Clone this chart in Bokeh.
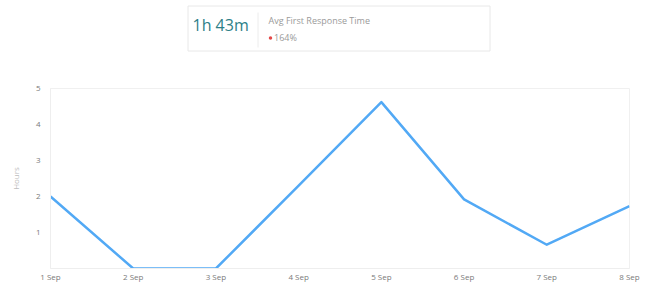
from bokeh.plotting import figure
from bokeh.models import Range1d, FixedTicker
from bokeh.layouts import column
from bokeh.embed import file_html
from bokeh.resources import INLINE
from bokeh.core.properties import value

# ---- data ----
days = ["1 Sep", "2 Sep", "3 Sep", "4 Sep", "5 Sep", "6 Sep", "7 Sep", "8 Sep"]
hours = [2.0, 0.0, 0.0, 2.3, 4.62, 1.92, 0.66, 1.73]
y_ticks = [1, 2, 3, 4, 5]
kpi_value = "1h 43m"
kpi_title = "Avg First Response Time"
kpi_change = "164%"

FONT = "Open Sans"
W = 661

# ---- KPI header (figure coordinates in px, y downward) ----
top = figure(width=W, height=60, output_backend="svg", toolbar_location=None,
             x_range=Range1d(0, W), y_range=Range1d(60, 0),
             min_border=0, outline_line_color=None)
top.frame_align = False
top.axis.visible = False
top.grid.visible = False
top.quad(left=[187.5], right=[489.5], top=[5.5], bottom=[50.5],
         fill_color="white", line_color="#e8e8e8", line_width=1)
top.segment(x0=[257.5], y0=[12], x1=[257.5], y1=[47], line_color="#ececec", line_width=1)
top.text(x=[192], y=[24.5], text=[kpi_value], text_font=value(FONT), text_font_size="16px",
         text_color="#2e7f88", text_baseline="middle", text_align="left")
top.text(x=[268], y=[20], text=[kpi_title], text_font=value(FONT), text_font_size="9px",
         text_color="#9a9a9a", text_baseline="middle", text_align="left")
top.scatter(x=[270], y=[37.5], size=3.5, marker="circle", fill_color="#e34a4a", line_color=None)
top.text(x=[273.5], y=[37], text=[kpi_change], text_font=value(FONT), text_font_size="9px",
         text_color="#9a9a9a", text_baseline="middle", text_align="left")

# ---- line chart ----
xs = list(range(len(days)))
p = figure(width=W, height=224, output_backend="svg", toolbar_location=None,
           x_range=Range1d(0, len(days) - 1), y_range=Range1d(0, 5),
           min_border_left=50, min_border_right=32, min_border_top=28, min_border_bottom=10,
           outline_line_color="#f0f0f0")
p.frame_align = False
p.grid.visible = False
p.line(xs, hours, line_color="#52a9f5", line_width=2.5, line_join="round")

p.xaxis.ticker = FixedTicker(ticks=xs)
p.xaxis.major_label_overrides = {i: d for i, d in enumerate(days)}
p.yaxis.ticker = FixedTicker(ticks=y_ticks)
p.yaxis.axis_label = "Hours"
for ax in (p.xaxis[0], p.yaxis[0]):
    ax.axis_line_color = "#eeeeee"
    ax.major_tick_line_color = None
    ax.minor_tick_line_color = None
    ax.major_tick_in = 0
    ax.major_tick_out = 0
    ax.minor_tick_in = 0
    ax.minor_tick_out = 0
    ax.major_label_text_font = FONT
    ax.major_label_text_font_size = "8px"
    ax.major_label_text_color = "#7a7a7a"
p.xaxis.major_label_standoff = 2
p.yaxis.major_label_standoff = 10
p.yaxis.axis_label_text_font = FONT
p.yaxis.axis_label_text_font_size = "8px"
p.yaxis.axis_label_text_font_style = "normal"
p.yaxis.axis_label_text_color = "#bdbdbd"
p.yaxis.axis_label_standoff = 12

layout = column(top, p, spacing=0)
open("out.html", "w").write(file_html(layout, INLINE))
